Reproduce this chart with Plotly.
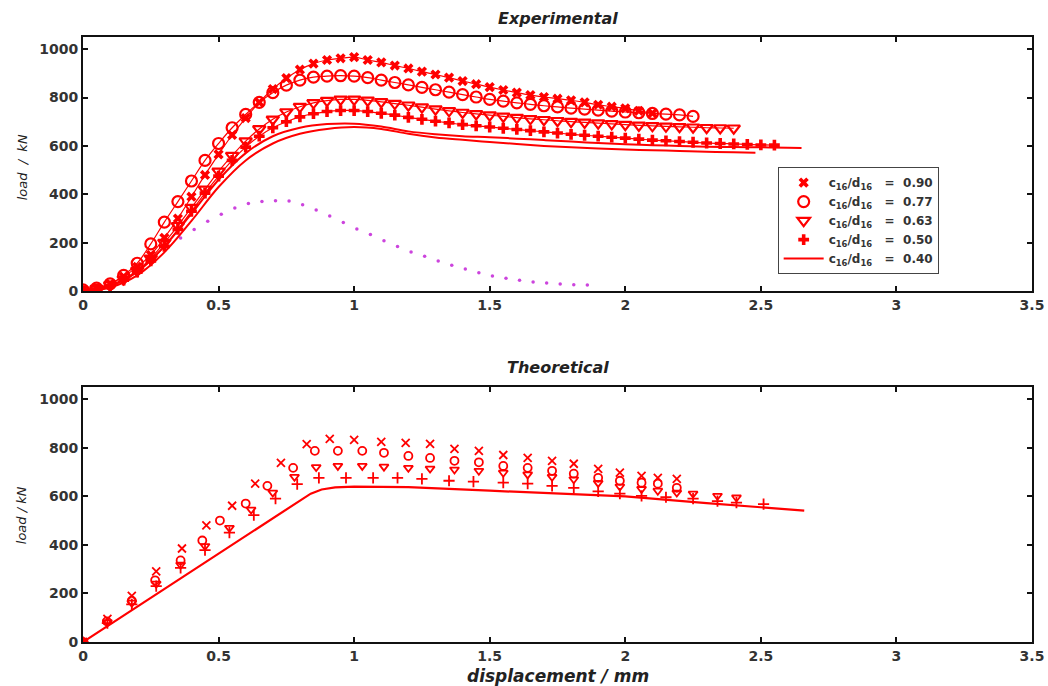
import numpy as np
import plotly.graph_objects as go

# ---------------- Experimental data ----------------
step = 0.05
exp90_y = [5, 12, 30, 60, 100, 150, 220, 300, 390, 480, 565, 645, 715, 780, 835, 880, 915, 940, 955, 962,
           967, 955, 945, 932, 920, 907, 895, 882, 868, 855, 843, 831, 820, 810, 802, 795, 788, 780, 770, 762,
           755, 745, 735]
exp77_y = [5, 12, 30, 65, 115, 195, 285, 370, 455, 540, 610, 675, 730, 780, 820, 851, 872, 884, 888, 890,
           888, 882, 872, 862, 852, 842, 832, 822, 812, 802, 792, 785, 778, 772, 766, 761, 756, 752, 748, 744,
           740, 737, 734, 731, 728, 722]
exp63_y = [3, 10, 25, 50, 85, 135, 200, 270, 345, 420, 495, 560, 620, 670, 710, 740, 762, 778, 787, 792,
           792, 788, 782, 775, 768, 760, 752, 745, 738, 732, 727, 722, 717, 712, 708, 704, 700, 697, 694, 691,
           688, 685, 683, 681, 679, 677, 675, 674, 673]
exp50_y = [2, 8, 22, 45, 78, 125, 185, 255, 330, 405, 475, 540, 595, 640, 675, 700, 720, 733, 742, 746,
           746, 742, 735, 727, 718, 710, 702, 695, 688, 683, 678, 673, 668, 663, 658, 653, 648, 644, 640, 636,
           632, 628, 624, 621, 618, 615, 612, 610, 608, 606, 604, 603]
exp40a_x = [0, 0.1, 0.2, 0.3, 0.4, 0.5, 0.6, 0.7, 0.8, 0.9, 1.0, 1.1, 1.2, 1.3, 1.4, 1.5, 1.6, 1.7, 1.8, 1.9,
            2.0, 2.1, 2.2, 2.3, 2.4, 2.5, 2.6, 2.65]
exp40a_y = [0, 20, 80, 185, 320, 460, 570, 640, 675, 690, 692, 680, 660, 648, 640, 636, 630, 624, 618, 612,
            607, 603, 600, 597, 595, 594, 592, 591]
exp40b_x = [0, 0.1, 0.2, 0.3, 0.4, 0.5, 0.6, 0.7, 0.8, 0.9, 1.0, 1.1, 1.2, 1.3, 1.4, 1.5, 1.6, 1.7, 1.8, 1.9,
            2.0, 2.1, 2.2, 2.3, 2.4, 2.48]
exp40b_y = [0, 15, 65, 160, 290, 430, 540, 610, 650, 670, 678, 670, 650, 635, 625, 616, 608, 600, 594, 589,
            585, 582, 579, 576, 574, 572]
mag_y = [2, 10, 28, 55, 95, 140, 182, 219, 255, 289, 318, 343, 362, 370, 373, 372, 357, 335, 310, 283,
         257, 234, 208, 184, 162, 144, 124, 107, 91, 76, 62, 53, 45, 38, 33, 29, 26, 25]
mag_x = [round(0.01 + step * i, 3) for i in range(len(mag_y))]

def xs(n):
    return [round(step * i, 3) for i in range(n)]

# ---------------- Theoretical data ----------------
th90_x = [0, 0.09, 0.18, 0.27, 0.365, 0.455, 0.55, 0.635, 0.73, 0.825, 0.91, 1.0, 1.1, 1.19, 1.28, 1.37,
          1.46, 1.55, 1.64, 1.73, 1.81, 1.90, 1.98, 2.06, 2.12, 2.19]
th90_y = [0, 95, 190, 291, 385, 480, 561, 652, 738, 815, 836, 832, 824, 820, 816, 795, 787, 770, 758, 746,
          734, 713, 697, 684, 676, 672]
th77_x = [0, 0.088, 0.18, 0.266, 0.36, 0.44, 0.505, 0.6, 0.68, 0.775, 0.855, 0.94, 1.03, 1.11, 1.2, 1.28,
          1.37, 1.46, 1.55, 1.64, 1.73, 1.81, 1.90, 1.98, 2.06, 2.12, 2.19]
th77_y = [0, 85, 170, 254, 336, 418, 500, 570, 643, 717, 787, 787, 787, 779, 766, 758, 746, 740, 725, 717,
          705, 693, 676, 664, 656, 652, 635]
th63_x = [0, 0.09, 0.18, 0.27, 0.36, 0.45, 0.54, 0.62, 0.70, 0.78, 0.86, 0.94, 1.03, 1.11, 1.2, 1.28, 1.37,
          1.46, 1.55, 1.64, 1.73, 1.81, 1.90, 1.98, 2.06, 2.12, 2.19, 2.25, 2.34, 2.41]
th63_y = [0, 82, 162, 240, 318, 395, 470, 545, 615, 680, 720, 725, 725, 722, 717, 714, 710, 705, 697, 690,
          680, 670, 655, 640, 630, 623, 615, 611, 602, 595]
th50_x = [0, 0.09, 0.18, 0.27, 0.36, 0.45, 0.54, 0.63, 0.71, 0.79, 0.87, 0.97, 1.07, 1.16, 1.25, 1.35, 1.44,
          1.55, 1.64, 1.73, 1.81, 1.90, 1.98, 2.06, 2.15, 2.25, 2.34, 2.41, 2.51]
th50_y = [0, 78, 155, 230, 305, 378, 450, 522, 590, 650, 676, 676, 676, 676, 672, 664, 660, 656, 652, 643,
          635, 620, 611, 602, 596, 590, 580, 574, 568]
th40_x = [0, 0.84, 0.88, 0.93, 1.0, 1.2, 1.5, 1.8, 2.0, 2.3, 2.66]
th40_y = [0, 611, 628, 637, 640, 638, 623, 610, 600, 572, 541]

ratios = ["0.90", "0.77", "0.63", "0.50", "0.40"]
labels = ["<b>c<sub>16</sub>/d<sub>16</sub>   =  " + r + "</b>" for r in ratios]

RED = "#ff0000"
MAG = "#cc44dd"
FONT = "DejaVu Sans"

fig = go.Figure()

# magenta dotted (drawn first, below)
fig.add_trace(go.Scatter(x=mag_x, y=mag_y, mode="markers", showlegend=False,
                         marker=dict(symbol="circle", size=3.5, color=MAG, line=dict(width=0)),
                         xaxis="x", yaxis="y"))

exp_series = [(exp90_y, "x", 9, labels[0]), (exp77_y, "circle-open", 11, labels[1]),
              (exp63_y, "triangle-down-open", 11, labels[2]), (exp50_y, "cross", 9, labels[3])]
# thin connecting lines (no legend)
for yv, sym, sz, lab in exp_series:
    fig.add_trace(go.Scatter(x=xs(len(yv)), y=yv, mode="lines", showlegend=False,
                             line=dict(color=RED, width=1.2, shape="spline"), xaxis="x", yaxis="y"))
for yv, sym, sz, lab in exp_series:
    if sym.endswith("open"):
        mk = dict(symbol=sym, size=sz, color=RED, line=dict(color=RED, width=2.2))
    else:
        mk = dict(symbol=sym, size=sz, color=RED, line=dict(width=0))
    fig.add_trace(go.Scatter(x=xs(len(yv)), y=yv, mode="markers", name=lab, marker=mk,
                             xaxis="x", yaxis="y"))
fig.add_trace(go.Scatter(x=exp40a_x, y=exp40a_y, mode="lines", name=labels[4],
                         line=dict(color=RED, width=2, shape="spline"), xaxis="x", yaxis="y"))
fig.add_trace(go.Scatter(x=exp40b_x, y=exp40b_y, mode="lines", showlegend=False,
                         line=dict(color=RED, width=2, shape="spline"), xaxis="x", yaxis="y"))

# theoretical
th_series = [(th90_x, th90_y, "x-thin-open"), (th77_x, th77_y, "circle-open"),
             (th63_x, th63_y, "triangle-down-open"), (th50_x, th50_y, "cross-thin-open")]
for xv, yv, sym in th_series:
    fig.add_trace(go.Scatter(x=xv, y=yv, mode="markers", showlegend=False,
                             marker=dict(symbol=sym, size=8, color=RED, line=dict(color=RED, width=1.8)),
                             xaxis="x2", yaxis="y2"))
fig.add_trace(go.Scatter(x=th40_x, y=th40_y, mode="lines", showlegend=False,
                         line=dict(color=RED, width=2.2), xaxis="x2", yaxis="y2"))

tickfont = dict(family=FONT, size=14, color="#333")
axis_common = dict(range=[0, 3.5], tickvals=[0, 0.5, 1, 1.5, 2, 2.5, 3, 3.5],
                   ticktext=["<b>0</b>", "<b>0.5</b>", "<b>1</b>", "<b>1.5</b>", "<b>2</b>", "<b>2.5</b>",
                             "<b>3</b>", "<b>3.5</b>"],
                   ticks="inside", ticklen=5, tickwidth=1.5, tickcolor="#111",
                   showline=True, linecolor="#111", linewidth=1.8, mirror="ticks",
                   showgrid=False, zeroline=False, tickfont=tickfont, automargin=False)
yaxis_common = dict(range=[0, 1050], tickvals=[0, 200, 400, 600, 800, 1000],
                    ticktext=["<b>0</b>", "<b>200</b>", "<b>400</b>", "<b>600</b>", "<b>800</b>", "<b>1000</b>"],
                    ticks="inside", ticklen=5, tickwidth=1.5, tickcolor="#111",
                    showline=True, linecolor="#111", linewidth=1.8, mirror="ticks",
                    showgrid=False, zeroline=False, tickfont=tickfont, automargin=False)

fig.update_layout(
    width=1048, height=686,
    margin=dict(l=83, r=16, t=37, b=44),
    paper_bgcolor="white", plot_bgcolor="white",
    xaxis=dict(domain=[0, 1], anchor="y", **axis_common),
    yaxis=dict(domain=[0.580, 1], anchor="x", **yaxis_common),
    xaxis2=dict(domain=[0, 1], anchor="y2", **axis_common),
    yaxis2=dict(domain=[0, 0.4215], anchor="x2", **yaxis_common),
    showlegend=True,
    legend=dict(x=0.732, y=0.785, xanchor="left", yanchor="top",
                bgcolor="white", bordercolor="#444", borderwidth=1,
                font=dict(family=FONT, size=12, color="#333"),
                tracegroupgap=0, itemwidth=40),
)

annots = [
    dict(text="<b><i>Experimental</i></b>", x=0.5, y=1.031, xref="paper", yref="paper",
         showarrow=False, font=dict(family=FONT, size=16, color="#222"), yanchor="middle"),
    dict(text="<b><i>Theoretical</i></b>", x=0.5, y=0.453, xref="paper", yref="paper",
         showarrow=False, font=dict(family=FONT, size=16, color="#222"), yanchor="middle"),
    dict(text="<b><i>displacement / mm</i></b>", x=0.5, y=-0.056, xref="paper", yref="paper",
         showarrow=False, font=dict(family=FONT, size=17, color="#222"), yanchor="middle"),
    dict(text="<i>load  /  kN</i>", x=-0.064, y=0.785, xref="paper", yref="paper", textangle=-90,
         showarrow=False, font=dict(family=FONT, size=13, color="#222"), xanchor="center", yanchor="middle"),
    dict(text="<i>load / kN</i>", x=-0.064, y=0.21, xref="paper", yref="paper", textangle=-90,
         showarrow=False, font=dict(family=FONT, size=13, color="#222"), xanchor="center", yanchor="middle"),
]
fig.update_layout(annotations=annots)

fig.write_html("out.html", config={"displayModeBar": False},
               post_script="document.body.style.margin='0';document.body.style.overflow='hidden';")
